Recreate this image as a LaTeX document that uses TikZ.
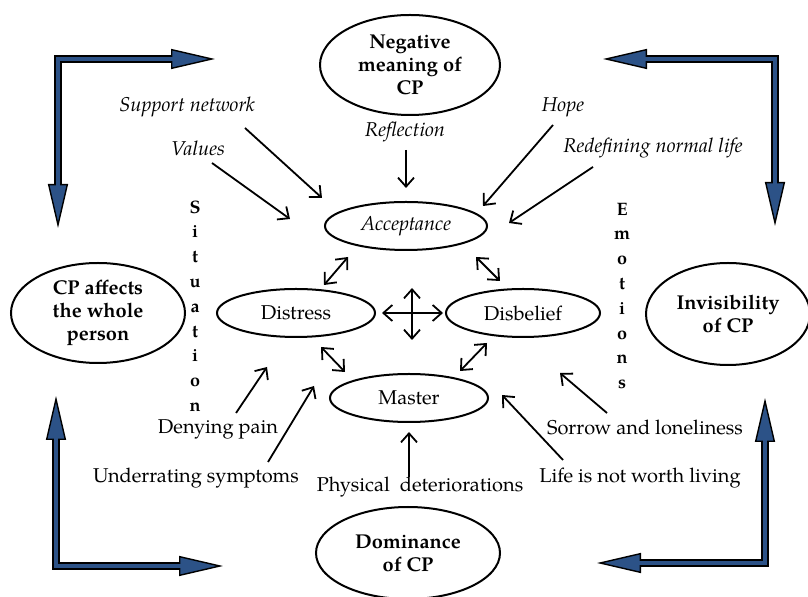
\documentclass[tikz,border=0pt]{standalone}
\usepackage{fontspec}
\setmainfont{TeX Gyre Pagella}
\usepackage{tikz}
\usetikzlibrary{shapes.geometric, arrows.meta, positioning, calc}
\definecolor{cpblue}{HTML}{2C5287}

\begin{document}
\begin{tikzpicture}[x=0.5pt, y=-0.5pt, >={Straight Barb[length=4.5pt,width=8pt]}]
    \tikzstyle{theme} = [ellipse, draw, line width=1pt, inner sep=0pt, align=center, font=\fontsize{10}{11.5}\selectfont\bfseries]
    \tikzstyle{cat} = [ellipse, draw, line width=1pt, inner sep=0pt, minimum height=24pt]
    \tikzstyle{factor} = [inner sep=1pt]
    \tikzstyle{link} = [draw, ->, line width=0.9pt]
    \tikzstyle{twoway} = [draw, <->, line width=0.9pt]
    \tikzstyle{vword} = [align=center, font=\fontsize{9}{12.4}\selectfont\bfseries]
    \tikzstyle{bigouter} = [draw=black, line width=3.6pt, {Triangle[length=22pt,width=10pt,line width=0.7pt,fill=cpblue]}-{Triangle[length=22pt,width=10pt,line width=0.7pt,fill=cpblue]}]
    \tikzstyle{biginner} = [draw=cpblue, line width=2pt, shorten <=20pt, shorten >=20pt]

    \useasboundingbox (0,0) rectangle (808,597);

    % themes
    \node [theme, minimum width=90pt, minimum height=50pt] (neg) at (410,65) {Negative\\meaning of\\CP};
    \node [theme, minimum width=87pt, minimum height=50pt] (whole) at (98,313) {CP affects\\the whole\\person};
    \node [theme, minimum width=82pt, minimum height=51pt] (invis) at (728,314) {Invisibility\\of CP};
    \node [theme, minimum width=92pt, minimum height=46pt] (dom) at (408,553) {Dominance\\of CP};

    % core
    \node [cat, minimum width=81pt, font=\itshape] (acc) at (406,226) {Acceptance};
    \node [cat, minimum width=79pt] (dis) at (296,313) {Distress};
    \node [cat, minimum width=77pt] (disb) at (523,313) {Disbelief};
    \node [cat, minimum width=79pt] (mas) at (409,398) {Master};
    \coordinate (cross) at (412,313);

    \node [vword] (sit) at (195,306) {S\\i\\t\\u\\a\\t\\i\\o\\n};
    \node [vword] (emo) at (622,296) {E\\m\\o\\t\\i\\o\\n\\s};

    % factors
    \node [factor, font=\itshape] (sup) at (187,107) {Support network};
    \node [factor, font=\itshape] (val) at (198,148) {Values};
    \node [factor, font=\itshape] (ref) at (405,132) {Reflection};
    \node [factor, font=\itshape] (hope) at (563,107) {Hope};
    \node [factor, font=\itshape] (red) at (653,148) {Redefining normal life};
    \node [factor] (den) at (218,429) {Denying pain};
    \node [factor] (und) at (196,478) {Underrating symptoms};
    \node [factor] (phy) at (420,487) {Physical\enspace deteriorations};
    \node [factor] (sor) at (645,427) {Sorrow and loneliness};
    \node [factor] (life) at (640,478) {Life is not worth living};

    \path [link] ($(sup)+(58,21)$) -- ($(acc)+(-84,-28)$);
    \path [link] ($(val)+(14,15)$) -- ($(acc)+(-116,-7)$);
    \path [link] ($(ref)+(1,18)$) -- ($(acc)+(0,-38)$);
    \path [link] ($(hope)+(-10,18)$) -- ($(acc)+(77,-20)$);
    \path [link] ($(red)+(-60,19)$) -- ($(acc)+(103,-3)$);
    \path [link] ($(den)+(18,-16)$) -- ($(dis)+(-29,54)$);
    \path [link] ($(und)+(72,-16)$) -- ($(mas)+(-95,-12)$);
    \path [link] ($(phy)+(-11,-10)$) -- ($(mas)+(0,34)$);
    \path [link] ($(life)+(-77,-18)$) -- ($(mas)+(93,-3)$);
    \path [link] ($(sor)+(-38,-14)$) -- ($(disb)+(37,60)$);

    \path [twoway] ($(acc)+(-58,31)$) -- ($(dis)+(28,-28)$);
    \path [twoway] ($(acc)+(70,31)$) -- ($(disb)+(-23,-32)$);
    \path [twoway] ($(dis)+(25,34)$) -- ($(mas)+(-64,-26)$);
    \path [twoway] ($(disb)+(-36,30)$) -- ($(mas)+(51,-27)$);
    \path [twoway] ($(cross)+(-30,0)$) -- ($(cross)+(31,0)$);
    \path [twoway] ($(cross)+(0,-25)$) -- ($(cross)+(0,27)$);

    % corner arrows
    \coordinate (tlA) at (215,59);  \coordinate (tlC) at (58,59);   \coordinate (tlB) at (58,228);
    \coordinate (trA) at (603,59);  \coordinate (trC) at (775,59);  \coordinate (trB) at (775,226);
    \coordinate (blA) at (56,396);  \coordinate (blC) at (56,566);  \coordinate (blB) at (223,566);
    \coordinate (brA) at (765,398); \coordinate (brC) at (765,563); \coordinate (brB) at (597,563);

    \path [bigouter] (tlA) -- (tlC) -- (tlB);
    \path [biginner] (tlA) -- (tlC) -- (tlB);
    \path [bigouter] (trA) -- (trC) -- (trB);
    \path [biginner] (trA) -- (trC) -- (trB);
    \path [bigouter] (blA) -- (blC) -- (blB);
    \path [biginner] (blA) -- (blC) -- (blB);
    \path [bigouter] (brA) -- (brC) -- (brB);
    \path [biginner] (brA) -- (brC) -- (brB);
\end{tikzpicture}
\end{document}
